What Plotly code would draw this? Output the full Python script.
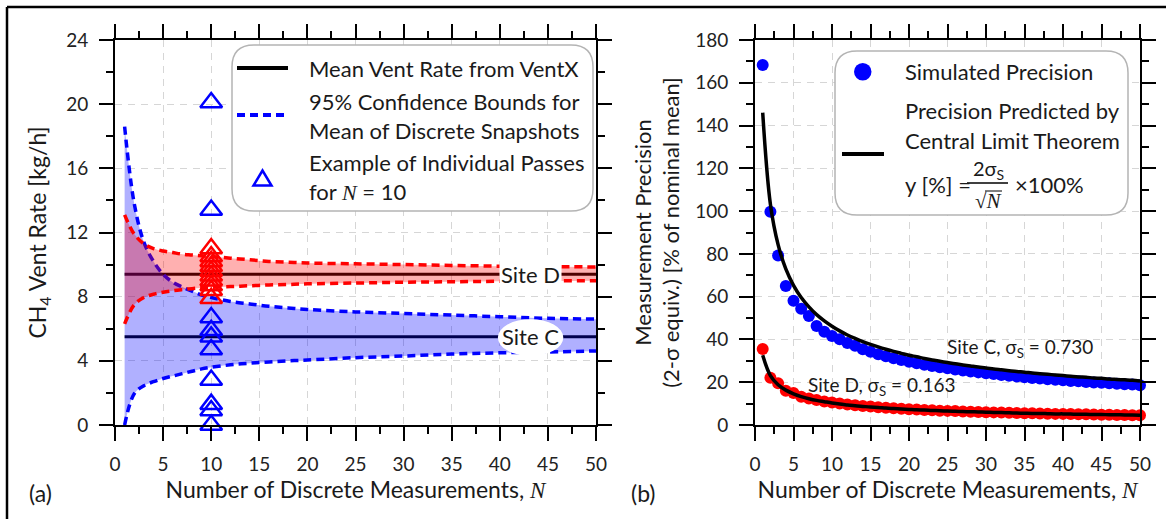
import plotly.graph_objects as go

W, H = 1166, 519
PT, PB = 40, 425
FONT = "Lato"
TXT = "#1a1a1a"

# ---------------- data: panel (a) ----------------
n_bounds = [1, 2, 3, 4, 5, 6, 7, 8, 9, 10, 12, 14, 16, 18, 20, 25, 30, 35, 40, 45, 50]
c_upper = [18.6, 13.8, 11.4, 10.2, 9.4, 8.9, 8.6, 8.35, 8.1, 7.95, 7.7, 7.55, 7.4, 7.3, 7.2, 7.05, 6.95, 6.85, 6.75, 6.65, 6.6]
c_lower = [0.0, 1.95, 2.45, 2.7, 2.9, 3.05, 3.2, 3.35, 3.5, 3.6, 3.75, 3.85, 3.93, 4.0, 4.05, 4.2, 4.3, 4.42, 4.5, 4.55, 4.62]
d_upper = [13.1, 11.9, 11.3, 11.0, 10.85, 10.75, 10.65, 10.6, 10.55, 10.5, 10.4, 10.3, 10.2, 10.15, 10.1, 10.05, 10.0, 9.95, 9.9, 9.88, 9.85]
d_lower = [6.3, 7.5, 7.95, 8.15, 8.28, 8.37, 8.44, 8.5, 8.55, 8.58, 8.63, 8.68, 8.73, 8.76, 8.8, 8.85, 8.9, 8.93, 8.96, 8.98, 9.0]
mean_n = [1, 50]
mean_c = [5.5, 5.5]
mean_d = [9.4, 9.4]
pass_n = [10] * 10
passes_c = [20.1, 13.4, 6.7, 5.9, 5.5, 4.7, 2.8, 1.3, 0.9, 0.0]
passes_d = [11.0, 10.5, 10.2, 9.9, 9.6, 9.3, 9.0, 8.7, 8.4, 7.9]

# ---------------- data: panel (b) ----------------
n_all = list(range(1, 51))
sim_c = [168.3, 99.7, 79.3, 65.0, 58.1, 54.4, 51.0, 46.3, 43.6, 41.6,
         40.1, 38.3, 37.0, 35.4, 34.2, 33.1, 32.1, 31.2, 30.4, 29.6,
         28.9, 28.2, 27.6, 27.0, 26.5, 26.0, 25.5, 25.0, 24.6, 24.2,
         23.8, 23.4, 23.0, 22.7, 22.3, 22.0, 21.7, 21.4, 21.1, 20.9,
         20.6, 20.4, 20.1, 19.9, 19.7, 19.5, 19.3, 19.1, 18.9, 18.6]
sim_d = [35.5, 22.1, 19.5, 16.0, 15.0, 13.2, 12.4, 11.7, 11.0, 10.5,
         10.0, 9.6, 9.2, 8.9, 8.6, 8.3, 8.1, 7.8, 7.6, 7.4,
         7.2, 7.0, 6.9, 6.7, 6.6, 6.5, 6.3, 6.2, 6.1, 6.0,
         5.9, 5.8, 5.7, 5.6, 5.5, 5.5, 5.4, 5.3, 5.2, 5.2,
         5.1, 5.0, 5.0, 4.9, 4.8, 4.8, 4.7, 4.7, 4.6, 4.6]
clt_c = [146.0, 103.2, 84.3, 73.0, 65.3, 59.6, 55.2, 51.6, 48.7, 46.2,
         44.0, 42.1, 40.5, 39.0, 37.7, 36.5, 35.4, 34.4, 33.5, 32.6,
         31.9, 31.1, 30.4, 29.8, 29.2, 28.6, 28.1, 27.6, 27.1, 26.7,
         26.2, 25.8, 25.4, 25.0, 24.7, 24.3, 24.0, 23.7, 23.4, 23.1,
         22.8, 22.5, 22.3, 22.0, 21.8, 21.5, 21.3, 21.1, 20.9, 20.6]
clt_d = [32.6, 23.1, 18.8, 16.3, 14.6, 13.3, 12.3, 11.5, 10.9, 10.3,
         9.8, 9.4, 9.0, 8.7, 8.4, 8.2, 7.9, 7.7, 7.5, 7.3,
         7.1, 7.0, 6.8, 6.7, 6.5, 6.4, 6.3, 6.2, 6.1, 6.0,
         5.9, 5.8, 5.7, 5.6, 5.5, 5.4, 5.4, 5.3, 5.2, 5.2,
         5.1, 5.0, 5.0, 4.9, 4.9, 4.8, 4.8, 4.7, 4.7, 4.6]
sigma_c = "0.730"
sigma_d = "0.163"


def fx(X):
    return X / W


def fy(Y):
    return (PB - Y) / (PB - PT)


BLUE = "rgb(0,0,255)"
RED = "rgb(255,0,0)"
DASH = "8px,5px"
LEG = 22

fig = go.Figure()

# ---- panel (a) ----
fig.add_trace(go.Scatter(x=mean_n, y=mean_d, mode="lines", line=dict(color="black", width=3), xaxis="x", yaxis="y"))
fig.add_trace(go.Scatter(x=mean_n, y=mean_c, mode="lines", line=dict(color="black", width=3), xaxis="x", yaxis="y"))

fig.add_trace(go.Scatter(x=n_bounds, y=c_lower, mode="lines", line=dict(width=0, shape="spline"), xaxis="x", yaxis="y"))
fig.add_trace(go.Scatter(x=n_bounds, y=c_upper, mode="lines", line=dict(width=0, shape="spline"), fill="tonexty",
                         fillcolor="rgba(0,0,255,0.31)", xaxis="x", yaxis="y"))
fig.add_trace(go.Scatter(x=n_bounds, y=c_lower, mode="lines", line=dict(color=BLUE, width=3.5, dash=DASH, shape="spline"), xaxis="x", yaxis="y"))
fig.add_trace(go.Scatter(x=n_bounds, y=c_upper, mode="lines", line=dict(color=BLUE, width=3.5, dash=DASH, shape="spline"), xaxis="x", yaxis="y"))

fig.add_trace(go.Scatter(x=n_bounds, y=d_lower, mode="lines", line=dict(width=0, shape="spline"), xaxis="x", yaxis="y"))
fig.add_trace(go.Scatter(x=n_bounds, y=d_upper, mode="lines", line=dict(width=0, shape="spline"), fill="tonexty",
                         fillcolor="rgba(255,0,0,0.31)", xaxis="x", yaxis="y"))
fig.add_trace(go.Scatter(x=n_bounds, y=d_lower, mode="lines", line=dict(color=RED, width=3.5, dash=DASH, shape="spline"), xaxis="x", yaxis="y"))
fig.add_trace(go.Scatter(x=n_bounds, y=d_upper, mode="lines", line=dict(color=RED, width=3.5, dash=DASH, shape="spline"), xaxis="x", yaxis="y"))

fig.add_trace(go.Scatter(x=pass_n, y=passes_c, mode="markers", cliponaxis=False,
                         marker=dict(symbol="triangle-up-open", size=19, color=BLUE, line=dict(width=2.5, color=BLUE)),
                         xaxis="x", yaxis="y"))
fig.add_trace(go.Scatter(x=pass_n, y=passes_d, mode="markers", cliponaxis=False,
                         marker=dict(symbol="triangle-up-open", size=19, color=RED, line=dict(width=2.5, color=RED)),
                         xaxis="x", yaxis="y"))

# ---- panel (b) ----
fig.add_trace(go.Scatter(x=n_all, y=sim_c, mode="markers", cliponaxis=False,
                         marker=dict(size=12, color=BLUE), xaxis="x2", yaxis="y2"))
fig.add_trace(go.Scatter(x=n_all, y=sim_d, mode="markers", cliponaxis=False,
                         marker=dict(size=12, color=RED), xaxis="x2", yaxis="y2"))
fig.add_trace(go.Scatter(x=n_all, y=clt_c, mode="lines", line=dict(color="black", width=3.5, shape="spline"),
                         xaxis="x2", yaxis="y2"))
fig.add_trace(go.Scatter(x=n_all, y=clt_d, mode="lines", line=dict(color="black", width=3.5, shape="spline"),
                         xaxis="x2", yaxis="y2"))

axis_common = dict(
    showline=True, linecolor="black", linewidth=2, mirror="ticks",
    ticks="outside", ticklen=14, tickwidth=2, tickcolor="black",
    showgrid=True, gridcolor="#d6d6d6", gridwidth=1, griddash="7px,6px",
    zeroline=False, tickfont=dict(family=FONT, size=19, color="#222"),
    ticklabelstandoff=7,
)
title_font = dict(family=FONT, size=23, color=TXT)
xtitle = 'Number of Discrete Measurements, <span style="font-family:Liberation Serif"><i>N</i></span>'

fig.update_layout(
    width=W, height=H, template="none",
    margin=dict(l=0, r=0, t=PT, b=H - PB),
    paper_bgcolor="white", plot_bgcolor="white",
    showlegend=False,
    xaxis=dict(axis_common, domain=[fx(115), fx(596)], range=[0, 50], tick0=0, dtick=5, anchor="y",
               minor=dict(dtick=2.5, ticks="outside", ticklen=7, tickwidth=2, tickcolor="black", showgrid=False),
               title=dict(text=xtitle, font=title_font, standoff=5)),
    yaxis=dict(axis_common, domain=[0, 1], range=[0, 24], tick0=0, dtick=4, anchor="x",
               minor=dict(dtick=2, ticks="outside", ticklen=7, tickwidth=2, tickcolor="black", showgrid=False),
               title=dict(text="CH<sub>4</sub> Vent Rate [kg/h]", font=title_font, standoff=13)),
    xaxis2=dict(axis_common, domain=[fx(755), fx(1140)], range=[0, 50], tick0=0, dtick=5, anchor="y2",
                minor=dict(dtick=2.5, ticks="outside", ticklen=7, tickwidth=2, tickcolor="black", showgrid=False),
                title=dict(text=xtitle, font=title_font, standoff=5)),
    yaxis2=dict(axis_common, domain=[0, 1], range=[0, 180], tick0=0, dtick=20, anchor="x2",
                minor=dict(dtick=10, ticks="outside", ticklen=7, tickwidth=2, tickcolor="black", showgrid=False),
                title=dict(text="Measurement Precision<br>(2-σ equiv.) [% of nominal mean]",
                           font=dict(family=FONT, size=22, color=TXT), standoff=9)),
)


def rrect(x0, y0, x1, y1, r):
    p = [
        f"M {fx(x0 + r)},{fy(y0)}", f"L {fx(x1 - r)},{fy(y0)}",
        f"Q {fx(x1)},{fy(y0)} {fx(x1)},{fy(y0 + r)}", f"L {fx(x1)},{fy(y1 - r)}",
        f"Q {fx(x1)},{fy(y1)} {fx(x1 - r)},{fy(y1)}", f"L {fx(x0 + r)},{fy(y1)}",
        f"Q {fx(x0)},{fy(y1)} {fx(x0)},{fy(y1 - r)}", f"L {fx(x0)},{fy(y0 + r)}",
        f"Q {fx(x0)},{fy(y0)} {fx(x0 + r)},{fy(y0)}", "Z",
    ]
    return " ".join(p)


shapes = []
ann = []


def ptext(text, X, Y, xanchor="left", size=LEG, family=FONT):
    ann.append(dict(text=text, x=fx(X), y=fy(Y), xref="paper", yref="paper", showarrow=False,
                    xanchor=xanchor, yanchor="middle", font=dict(family=family, size=size, color=TXT)))


def pline(X0, X1, Y, color="black", width=4, dash=None):
    shapes.append(dict(type="line", xref="paper", yref="paper", x0=fx(X0), x1=fx(X1), y0=fy(Y), y1=fy(Y),
                       line=dict(color=color, width=width, dash=dash), layer="above"))


# outer frame (top and left edges visible)
shapes.append(dict(type="line", xref="paper", yref="paper", x0=fx(7), x1=fx(W + 5), y0=fy(7), y1=fy(7),
                   line=dict(color="black", width=2.5)))
shapes.append(dict(type="line", xref="paper", yref="paper", x0=fx(7), x1=fx(7), y0=fy(7), y1=fy(H + 5),
                   line=dict(color="black", width=2.5)))

# Site C white ellipse label background
site_label_n = 43.2
shapes.append(dict(type="circle", xref="x", yref="y", x0=site_label_n - 3.4, x1=site_label_n + 3.4,
                   y0=mean_c[0] - 1.2, y1=mean_c[0] + 1.1, fillcolor="white", line=dict(width=0), layer="above"))

# legend (a)
shapes.append(dict(type="path", xref="paper", yref="paper", path=rrect(232, 45, 593, 211, 22),
                   fillcolor="white", line=dict(color="#b4b4b4", width=1.5), layer="above"))
pline(237, 288, 68)
ptext("Mean Vent Rate from VentX", 307, 68)
pline(237, 287, 115, color=BLUE, dash=DASH)
ptext("95% Confidence Bounds for", 307, 101.5)
ptext("Mean of Discrete Snapshots", 307, 130.5)
tri = f"M {fx(253.5)},{fy(185.5)} L {fx(271.5)},{fy(185.5)} L {fx(262.5)},{fy(170.5)} Z"
shapes.append(dict(type="path", xref="paper", yref="paper", path=tri, line=dict(color=BLUE, width=2.5), layer="above"))
ptext("Example of Individual Passes", 307, 162.5)
ptext('for <span style="font-family:Liberation Serif"><i>N</i></span> = 10', 307, 191.5)

# legend (b)
shapes.append(dict(type="path", xref="paper", yref="paper", path=rrect(835, 51, 1128, 215, 22),
                   fillcolor="white", line=dict(color="#b4b4b4", width=1.5), layer="above"))
shapes.append(dict(type="circle", xref="paper", yref="paper", x0=fx(854), x1=fx(871.5), y0=fy(80.5), y1=fy(63),
                   fillcolor=BLUE, line=dict(width=0), layer="above"))
ptext("Simulated Precision", 903, 71.5)
ptext("Precision Predicted by", 903, 111)
ptext("Central Limit Theorem", 903, 140)
pline(842, 884, 154)
ptext("y [%] =", 903, 184)
ptext("2σ<sub>S</sub>", 988, 169, xanchor="center", size=20)
pline(967, 1008, 183, width=1.5)
ptext('√<i>N</i>', 988, 201, xanchor="center", size=21, family="Liberation Serif")
pline(985, 1002, 191, width=1)
ptext("×100%", 1013, 184)

# panel letters
ptext("(a)", 40, 493, xanchor="center", size=23)
ptext("(b)", 643, 493, xanchor="center", size=23)

# site labels panel (a)
ann.append(dict(text="Site D", x=site_label_n, y=mean_d[0], xref="x", yref="y", showarrow=False,
                bgcolor="white", borderpad=1, font=dict(family=FONT, size=LEG, color=TXT)))
ann.append(dict(text="Site C", x=site_label_n, y=mean_c[0], xref="x", yref="y", showarrow=False,
                font=dict(family=FONT, size=LEG, color=TXT)))
# site labels panel (b)
ann.append(dict(text=f"Site C, σ<sub>S</sub> = {sigma_c}", x=34.4, y=36, xref="x2", yref="y2", showarrow=False,
                font=dict(family=FONT, size=19, color=TXT)))
ann.append(dict(text=f"Site D, σ<sub>S</sub> = {sigma_d}", x=16.4, y=18.2, xref="x2", yref="y2", showarrow=False,
                font=dict(family=FONT, size=19, color=TXT)))

fig.update_layout(shapes=shapes, annotations=ann)
fig.write_html("out.html")
